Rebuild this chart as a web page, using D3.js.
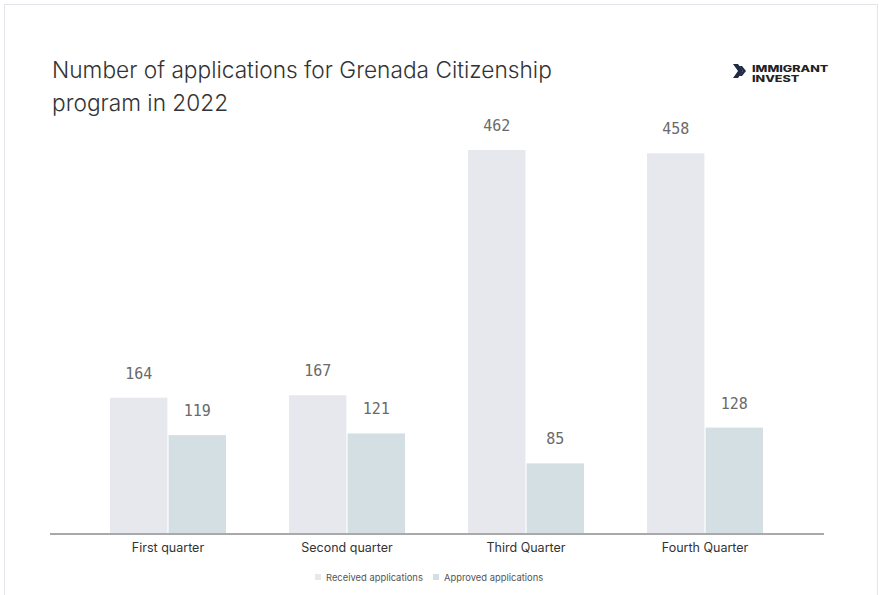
<!DOCTYPE html>
<html><head><meta charset="utf-8">
<script src="https://cdn.jsdelivr.net/npm/d3@7"></script>
<style>body{margin:0;background:#fff}svg{display:block}</style>
</head><body>
<svg id="c" width="879" height="595"></svg>
<script>
const categories = ["First quarter", "Second quarter", "Third Quarter", "Fourth Quarter"];
const received = [164, 167, 462, 458];
const approved = [119, 121, 85, 128];
const seriesNames = ["Received applications", "Approved applications"];
const colors = ["#e6e8ed", "#d4dfe4"];

const svg = d3.select("#c");
svg.append("rect").attr("x", 4.5).attr("y", 4.5).attr("width", 873).attr("height", 600)
  .attr("fill", "#fff").attr("stroke", "#e4e5ea");

const baseY = 534;
const x0 = d3.scaleBand().domain(categories).range([50, 823]).paddingInner(0.352).paddingOuter(0.335);
const x1 = d3.scaleBand().domain([0, 1]).range([0, x0.bandwidth()]).paddingInner(0.02);
const y = d3.scaleLinear().domain([0, 462]).range([baseY, 150]);

const data = categories.map((c, i) => ({c, v: [received[i], approved[i]]}));
const g = svg.append("g");
const grp = g.selectAll("g.q").data(data).join("g").attr("transform", d => `translate(${x0(d.c)},0)`);
grp.selectAll("rect").data(d => d.v.map((v, k) => ({v, k}))).join("rect")
  .attr("x", d => x1(d.k)).attr("width", x1.bandwidth())
  .attr("y", d => y(d.v)).attr("height", d => baseY - y(d.v)).attr("fill", d => colors[d.k]);
grp.selectAll("text").data(d => d.v.map((v, k) => ({v, k}))).join("text")
  .attr("x", d => x1(d.k) + x1.bandwidth() / 2).attr("y", d => y(d.v) - 19)
  .attr("text-anchor", "middle").attr("font-family", "DejaVu Sans Mono").attr("font-size", 15)
  .attr("fill", "#6a6a6a").text(d => d.v);

// axis
const ax = svg.append("g").attr("transform", `translate(0,${baseY})`)
  .call(d3.axisBottom(x0).tickSize(0).tickPadding(9));
ax.select(".domain").attr("d", "M50,0H824").attr("stroke", "#a9a9a9").attr("stroke-width", 2);
ax.selectAll("text").attr("font-family", "Inter, 'Open Sans', sans-serif").attr("font-size", 12.5).attr("fill", "#333");

// title
const t = svg.append("text").attr("font-family", "Inter, 'Open Sans', sans-serif").attr("font-size", 22.7)
  .attr("font-weight", 350).attr("fill", "#333");
t.append("tspan").attr("x", 52).attr("y", 78).text("Number of applications for Grenada Citizenship");
t.append("tspan").attr("x", 52).attr("y", 111).text("program in 2022");

// logo
const lg = svg.append("g").attr("transform", "translate(733,64)");
lg.append("path").attr("d", "M0,0 L5,0 L10,7 L5,14 L0,14 L5,7 Z").attr("fill", "#1f2a44");
lg.append("path").attr("d", "M6,2 L9,2 L13,7 L9,12 L6,12 L10,7 Z").attr("fill", "#1f2a44");
const lt = svg.append("g").attr("transform", "translate(752,71.5) scale(1.46,1)")
  .append("text").attr("font-family", "Inter, sans-serif").attr("font-weight", 800)
  .attr("font-size", 8.6).attr("fill", "#222");
lt.append("tspan").attr("x", 0).attr("y", 0).text("IMMIGRANT");
lt.append("tspan").attr("x", 0).attr("y", 10.6).text("INVEST");

// legend
const legX = [315, 433];
const leg = svg.append("g");
seriesNames.forEach((n, i) => {
  leg.append("rect").attr("x", legX[i]).attr("y", 574).attr("width", 6).attr("height", 6).attr("fill", colors[i]);
  leg.append("text").attr("x", legX[i] + 11).attr("y", 580.5).attr("font-family", "Inter, sans-serif")
    .attr("font-size", 9.4).attr("fill", "#555").text(n);
});
</script>
</body></html>
